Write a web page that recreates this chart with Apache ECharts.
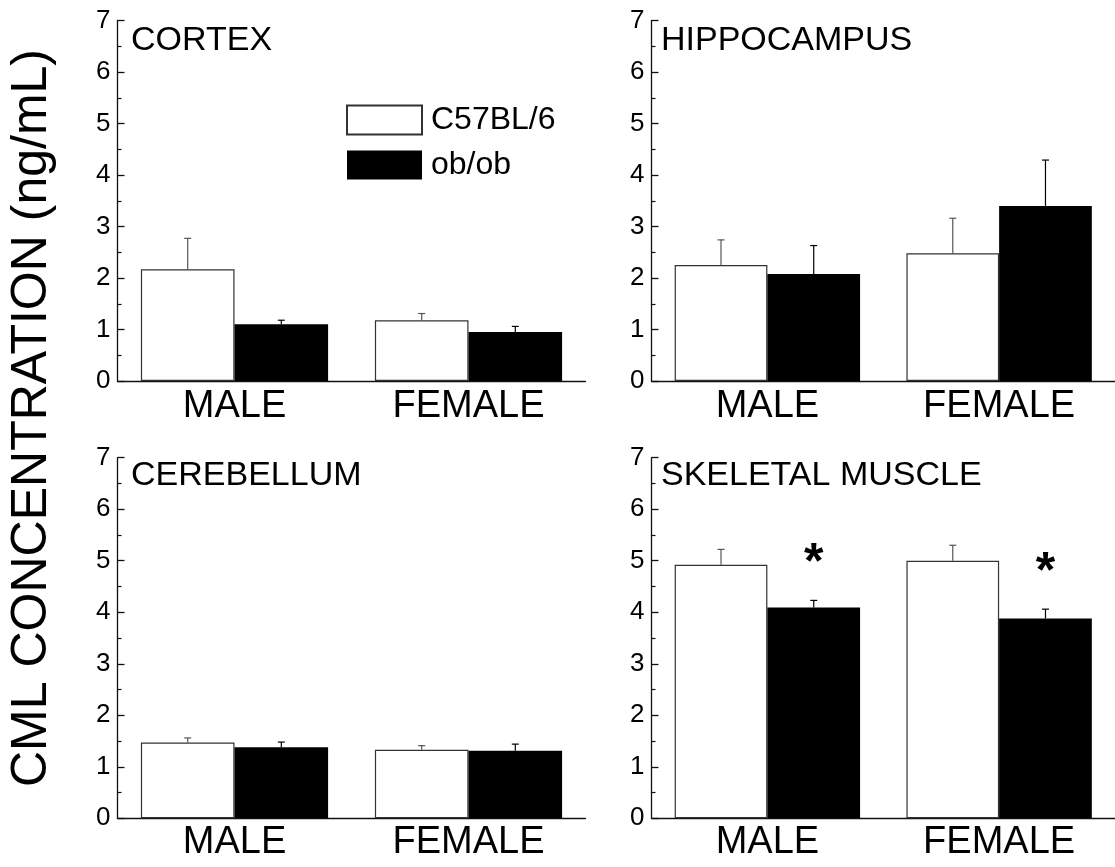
<!DOCTYPE html>
<html>
<head>
<meta charset="utf-8">
<script src="https://cdn.jsdelivr.net/npm/echarts@6/dist/echarts.min.js"></script>
<style>
  html, body { margin: 0; padding: 0; background: #fff; }
  #chart { width: 1115px; height: 867px; }
</style>
</head>
<body>
<div id="chart"></div>
<script>
// Categories on every x axis
const categories = ['MALE', 'FEMALE'];
const panelTitles = ['CORTEX', 'HIPPOCAMPUS', 'CEREBELLUM', 'SKELETAL MUSCLE'];
const yTicks = [0, 1, 2, 3, 4, 5, 6, 7];

// CML concentration (ng/mL): mean and SEM per strain, [MALE, FEMALE]
const cortexC57 = [2.17, 1.18];
const cortexC57Err = [0.60, 0.13];
const cortexOb = [1.10, 0.95];
const cortexObErr = [0.08, 0.11];

const hippoC57 = [2.25, 2.48];
const hippoC57Err = [0.49, 0.68];
const hippoOb = [2.08, 3.40];
const hippoObErr = [0.55, 0.89];

const cerebC57 = [1.47, 1.33];
const cerebC57Err = [0.09, 0.08];
const cerebOb = [1.38, 1.31];
const cerebObErr = [0.10, 0.13];

const muscleC57 = [4.92, 5.00];
const muscleC57Err = [0.30, 0.30];
const muscleOb = [4.09, 3.88];
const muscleObErr = [0.14, 0.18];

// significance vs. C57BL/6 (drawn as *)
const noSig = [false, false];
const muscleObSig = [true, true];

const panels = [
  { c57: cortexC57, c57Err: cortexC57Err, ob: cortexOb, obErr: cortexObErr, sig: noSig },
  { c57: hippoC57, c57Err: hippoC57Err, ob: hippoOb, obErr: hippoObErr, sig: noSig },
  { c57: cerebC57, c57Err: cerebC57Err, ob: cerebOb, obErr: cerebObErr, sig: noSig },
  { c57: muscleC57, c57Err: muscleC57Err, ob: muscleOb, obErr: muscleObErr, sig: muscleObSig }
];

const FONT = '"Liberation Sans", Arial, Helvetica, sans-serif';

const gridBoxes = [
  { left: 117.5, top: 20.5, width: 468, height: 360.5 },
  { left: 651.5, top: 20.5, width: 468, height: 360.5 },
  { left: 117.5, top: 457.7, width: 468, height: 360.6 },
  { left: 651.5, top: 457.7, width: 468, height: 360.6 }
];
const titlePos = [
  { left: 131, top: 23.5 },
  { left: 661, top: 23.5 },
  { left: 131, top: 458.5 },
  { left: 661, top: 458.5 }
];

const chart = echarts.init(document.getElementById('chart'), null, { renderer: 'canvas' });

const grid = [], xAxis = [], yAxis = [], series = [], title = [];

function errorSeries(idx, name, means, errs, sigs, side, lineColor) {
  return {
    type: 'custom',
    name: name,
    xAxisIndex: idx,
    yAxisIndex: idx,
    z: 5,
    silent: true,
    data: means.map((m, i) => [i, m, errs[i], sigs[i] ? 1 : 0]),
    encode: { x: 0, y: 1 },
    renderItem: function (params, api) {
      const cat = api.value(0);
      const mean = api.value(1);
      const err = api.value(2);
      const base = api.coord([cat, mean]);
      const top = api.coord([cat, mean + err]);
      const band = api.size([1, 0])[0];
      const cx = base[0] + side * band * 0.2;
      const children = [
        { type: 'line', shape: { x1: cx, y1: base[1], x2: cx, y2: top[1] },
          style: { stroke: lineColor, lineWidth: 1.2 } },
        { type: 'line', shape: { x1: cx - 3.5, y1: top[1], x2: cx + 3.5, y2: top[1] },
          style: { stroke: lineColor, lineWidth: 1.2 } }
      ];
      if (api.value(3)) {
        children.push({
          type: 'text',
          x: cx, y: top[1] - 36,
          style: { text: '*', font: 'bold 50px ' + FONT, fill: '#000',
                   align: 'center', verticalAlign: 'middle' }
        });
      }
      return { type: 'group', children: children };
    }
  };
}

panels.forEach((p, i) => {
  const top = i < 2;
  grid.push(Object.assign({ containLabel: false }, gridBoxes[i]));
  title.push({
    text: panelTitles[i], left: titlePos[i].left, top: titlePos[i].top, padding: 0,
    textStyle: { fontFamily: FONT, fontSize: 34, fontWeight: 'normal', color: '#000', lineHeight: 34 }
  });
  xAxis.push({
    type: 'category', gridIndex: i, data: categories,
    axisLine: { show: true, lineStyle: { color: '#111', width: 1.3 } },
    axisTick: { show: false },
    axisLabel: { fontFamily: FONT, fontSize: 38, color: '#000', margin: top ? 7 : 5, lineHeight: 38 },
    splitLine: { show: false }
  });
  yAxis.push({
    type: 'value', gridIndex: i, min: yTicks[0], max: yTicks[yTicks.length - 1], interval: 1,
    axisLine: { show: true, lineStyle: { color: '#111', width: 1.3 } },
    axisTick: { show: true, inside: true, length: 7, lineStyle: { color: '#111', width: 1.3 } },
    minorTick: { show: true, splitNumber: 2, length: 4, lineStyle: { color: '#111', width: 1.2 } },
    axisLabel: { fontFamily: FONT, fontSize: 26, color: '#000', margin: 7,
                 formatter: v => yTicks.indexOf(v) >= 0 ? String(v) : '' },
    splitLine: { show: false }
  });
  series.push({
    type: 'bar', name: 'C57BL/6', xAxisIndex: i, yAxisIndex: i, data: p.c57,
    barGap: '0%', barCategoryGap: '20%',
    itemStyle: { color: '#fff', borderColor: '#333', borderWidth: 1.2 },
    silent: true
  });
  series.push({
    type: 'bar', name: 'ob/ob', xAxisIndex: i, yAxisIndex: i, data: p.ob,
    barGap: '0%', barCategoryGap: '20%',
    itemStyle: { color: '#000', borderColor: '#000', borderWidth: 0 },
    silent: true
  });
  series.push(errorSeries(i, 'errC57_' + i, p.c57, p.c57Err, noSig, -1, '#555'));
  series.push(errorSeries(i, 'errOb_' + i, p.ob, p.obErr, p.sig, 1, '#000'));
});

chart.setOption({
  animation: false,
  backgroundColor: '#fff',
  title: title,
  grid: grid,
  xAxis: xAxis,
  yAxis: yAxis,
  legend: {
    data: ['C57BL/6', 'ob/ob'],
    orient: 'vertical', left: 346, top: 104, padding: 0,
    itemWidth: 75, itemHeight: 29, itemGap: 13, icon: 'rect',
    selectedMode: false,
    textStyle: { fontFamily: FONT, fontSize: 32, color: '#000', lineHeight: 29, padding: [0, 0, 0, 4] }
  },
  graphic: [{
    type: 'text', x: 32, y: 418, rotation: Math.PI / 2,
    style: { text: 'CML CONCENTRATION (ng/mL)', font: '50px ' + FONT, fill: '#000',
             align: 'center', verticalAlign: 'middle' }
  }],
  series: series
});
</script>
</body>
</html>
